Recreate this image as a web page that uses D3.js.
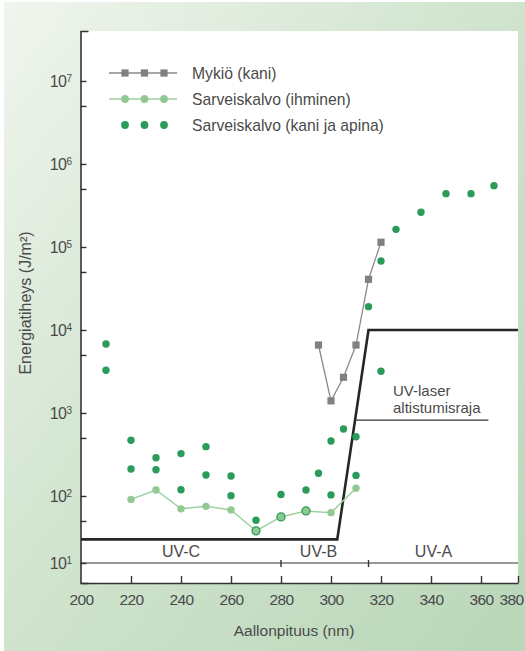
<!DOCTYPE html>
<html><head><meta charset="utf-8">
<script src="https://cdn.jsdelivr.net/npm/d3@7"></script>
<style>
html,body{margin:0;padding:0;background:#fff;}
svg{display:block;}
text{font-family:"Liberation Sans",Arial,sans-serif;}
</style></head>
<body>
<svg id="chart" width="525" height="651"></svg>
<script>
// ---- data ----
const xTicks = [200,220,240,260,280,300,320,340,360,380];
const yMajorTicks = [10,1e2,1e3,1e4,1e5,1e6,1e7];
const yMinorTicks = [5e1,5e2,5e3,5e4,5e5,5e6];

const legendLabels = ["Mykiö (kani)","Sarveiskalvo (ihminen)","Sarveiskalvo (kani ja apina)"];

// Mykiö (kani)
const lensX = [295,300,305,310,315,320];
const lensY = [6590,1400,2690,6590,40800,114000];

// Sarveiskalvo (ihminen)
const humanX = [220,230,240,250,260,270,280,290,300,310];
const humanY = [91,118,70,75,68,38,56,66,63,124];

// Sarveiskalvo (kani ja apina)
const animalX = [210,210,220,220,230,230,240,240,250,250,260,260,270,270,280,280,290,290,295,300,300,305,310,310,315,320,320,326,336,346,356,367];
const animalY = [6770,3270,469,211,289,207,324,119,393,179,174,101,51,38,104,56,118,66,188,460,103,641,518,177,19100,67700,3180,163000,262000,439000,439000,548000];

// UV-laser altistumisraja
const limitX = [200,302.5,315,380];
const limitY = [30,30,1e4,1e4];
const limitLabel = ["UV-laser","altistumisraja"];
const limitLeaderY = 820;     // J/m², where the leader line meets the limit
const limitLeaderEnd = 364;   // nm

// UV bands
const bandNames = ["UV-C","UV-B","UV-A"];
const bandLabelAt = [240,295,341];
const bandDividers = [280,315];
const bandLevel = 10;

const xTitle = "Aallonpituus (nm)";
const yTitle = "Energiatiheys (J/m²)";

// ---- layout ----
const svg = d3.select("#chart");
const W = 525, H = 651;
const L = 80.5, R = 518, T = 31, B = 583;

const defs = svg.append("defs");
const grad = defs.append("linearGradient").attr("id","bg")
  .attr("x1","0").attr("y1","0").attr("x2","1").attr("y2","1");
grad.append("stop").attr("offset","0%").attr("stop-color","#f0f5ee");
grad.append("stop").attr("offset","50%").attr("stop-color","#cfe3cd");
grad.append("stop").attr("offset","100%").attr("stop-color","#b9d6b8");

svg.append("rect").attr("x",0).attr("y",0).attr("width",W).attr("height",H).attr("fill","#fff");
svg.append("rect").attr("x",4).attr("y",2).attr("width",W-4).attr("height",H-2).attr("fill","url(#bg)");
svg.append("rect").attr("x",L).attr("y",T).attr("width",R-L).attr("height",B-T).attr("fill","#fff");

// x: linear 200–360, last interval compressed (as drawn in the original)
const x = d3.scaleLinear().domain([200,360,380]).range([L+0.5,481,R]);
// y: log, decades of 83 px from 20 J/m² up; 10¹ row compressed onto the band line
const y = d3.scaleLog().domain([5,10,20,4e7]).range([B,563,554,T]);

const ink = "#333";
const textCol = "#4a4a4a";

// x axis
const gx = svg.append("g").attr("transform",`translate(0,${B})`)
  .call(d3.axisBottom(x).tickValues(xTicks).tickFormat(d3.format("d"))
    .tickSize(-7).tickSizeOuter(0).tickPadding(11));
gx.select(".domain").attr("stroke",ink).attr("stroke-width",1.6);
gx.selectAll(".tick line").attr("stroke",ink).attr("stroke-width",1.4);
gx.selectAll(".tick").filter(d=>d===200).select("line").remove();
gx.selectAll(".tick text").attr("fill",textCol).attr("font-size",15.5).attr("letter-spacing","-0.6px");
gx.selectAll(".tick").filter(d=>d===380).select("text").attr("text-anchor","end").attr("dx","5");

// y axis major
const gy = svg.append("g").attr("transform",`translate(${L},0)`)
  .call(d3.axisLeft(y).tickValues(yMajorTicks).tickSize(-6).tickSizeOuter(-8).tickPadding(9)
    .tickFormat(d=>""));
gy.select(".domain").attr("stroke",ink).attr("stroke-width",1.6);
gy.selectAll(".tick line").attr("stroke",ink).attr("stroke-width",1.4);
gy.selectAll(".tick text").attr("fill",textCol).attr("font-size",16).attr("letter-spacing","-0.5px")
  .each(function(d){
    const t = d3.select(this);
    t.append("tspan").text("10");
    t.append("tspan").attr("dy","-0.5em").attr("font-size",10).text(Math.round(Math.log10(d)));
  });
// y axis minor
const gym = svg.append("g").attr("transform",`translate(${L},0)`)
  .call(d3.axisLeft(y).tickValues(yMinorTicks).tickSize(-6).tickFormat(""));
gym.select(".domain").remove();
gym.selectAll(".tick line").attr("stroke",ink).attr("stroke-width",1.4);

// band line and labels
svg.append("line").attr("x1",L).attr("x2",R).attr("y1",y(bandLevel)).attr("y2",y(bandLevel))
  .attr("stroke",ink).attr("stroke-width",1.2);
svg.selectAll(".bdiv").data(bandDividers).enter().append("line")
  .attr("x1",d=>x(d)).attr("x2",d=>x(d)).attr("y1",y(bandLevel)-3).attr("y2",y(bandLevel)+4)
  .attr("stroke",ink).attr("stroke-width",1.4);
svg.selectAll(".bname").data(bandNames).enter().append("text")
  .attr("x",(d,i)=>x(bandLabelAt[i])).attr("y",y(bandLevel)-6)
  .attr("text-anchor","middle").attr("font-size",16).attr("fill",textCol).text(d=>d);

// exposure limit
const limitData = limitX.map((v,i)=>[v,limitY[i]]);
svg.append("path").datum(limitData)
  .attr("d",d3.line().x(d=>x(d[0])).y(d=>y(d[1])))
  .attr("fill","none").attr("stroke","#262626").attr("stroke-width",2.6).attr("stroke-linejoin","miter");
// leader line
const lx0 = (function(){
  const yl = Math.log10(limitLeaderY), a = Math.log10(limitY[1]), b = Math.log10(limitY[2]);
  return limitX[1] + (yl-a)/(b-a)*(limitX[2]-limitX[1]);
})();
svg.append("line").attr("x1",x(lx0)).attr("x2",x(limitLeaderEnd))
  .attr("y1",y(limitLeaderY)).attr("y2",y(limitLeaderY)).attr("stroke",ink).attr("stroke-width",1.2);
svg.selectAll(".llab").data(limitLabel).enter().append("text")
  .attr("x",393).attr("y",(d,i)=>395.5+i*17)
  .attr("font-size",15).attr("fill",textCol).text(d=>d);

// colors
const cLens = "#808080", cLensLine = "#8a8a8a";
const cHuman = "#92c993", cHumanLine = "#9dd09e";
const cAnimal = "#2a9b59";

// animal dots
const animal = animalX.map((v,i)=>({x:v,y:animalY[i]}));
svg.selectAll(".animal").data(animal).enter().append("circle")
  .attr("cx",d=>x(d.x)).attr("cy",d=>y(d.y)).attr("r",3.7).attr("fill",cAnimal);

// human line + dots
const human = humanX.map((v,i)=>({x:v,y:humanY[i]}));
const shared = d=>animal.some(a=>a.x===d.x&&a.y===d.y);
svg.append("path").datum(human).attr("d",d3.line().x(d=>x(d.x)).y(d=>y(d.y)))
  .attr("fill","none").attr("stroke",cHumanLine).attr("stroke-width",1.5);
svg.selectAll(".human").data(human).enter().append("circle")
  .attr("cx",d=>x(d.x)).attr("cy",d=>y(d.y)).attr("r",d=>shared(d)?4:3.7)
  .attr("fill",cHuman)
  .attr("stroke",d=>shared(d)?cAnimal:"none").attr("stroke-width",1.3);

// lens line + squares
const lens = lensX.map((v,i)=>({x:v,y:lensY[i]}));
svg.append("path").datum(lens).attr("d",d3.line().x(d=>x(d.x)).y(d=>y(d.y)))
  .attr("fill","none").attr("stroke",cLensLine).attr("stroke-width",1.3);
svg.selectAll(".lens").data(lens).enter().append("rect")
  .attr("x",d=>x(d.x)-3.6).attr("y",d=>y(d.y)-3.6).attr("width",7.2).attr("height",7.2).attr("fill",cLens);

// legend
const lg = svg.append("g");
const rowsY = [73,99,125];
const mk = [125,144.5,164];
lg.append("line").attr("x1",109).attr("x2",177).attr("y1",rowsY[0]).attr("y2",rowsY[0]).attr("stroke",cLensLine).attr("stroke-width",1.5);
mk.forEach(m=>lg.append("rect").attr("x",m-3.6).attr("y",rowsY[0]-3.6).attr("width",7.2).attr("height",7.2).attr("fill",cLens));
lg.append("line").attr("x1",109).attr("x2",177).attr("y1",rowsY[1]).attr("y2",rowsY[1]).attr("stroke",cHumanLine).attr("stroke-width",1.5);
mk.forEach(m=>lg.append("circle").attr("cx",m).attr("cy",rowsY[1]).attr("r",3.9).attr("fill",cHuman));
mk.forEach(m=>lg.append("circle").attr("cx",m).attr("cy",rowsY[2]).attr("r",3.9).attr("fill",cAnimal));
lg.selectAll("text").data(legendLabels).enter().append("text")
  .attr("x",192).attr("y",(d,i)=>rowsY[i]+5.5).attr("font-size",15.7).attr("fill",textCol).text(d=>d);

// titles
svg.append("text").attr("x",294).attr("y",636).attr("text-anchor","middle")
  .attr("font-size",15.5).attr("fill",textCol).text(xTitle);
svg.append("text").attr("transform","translate(31,303) rotate(-90)").attr("text-anchor","middle")
  .attr("font-size",16).attr("fill",textCol).text(yTitle);
</script>
</body></html>
